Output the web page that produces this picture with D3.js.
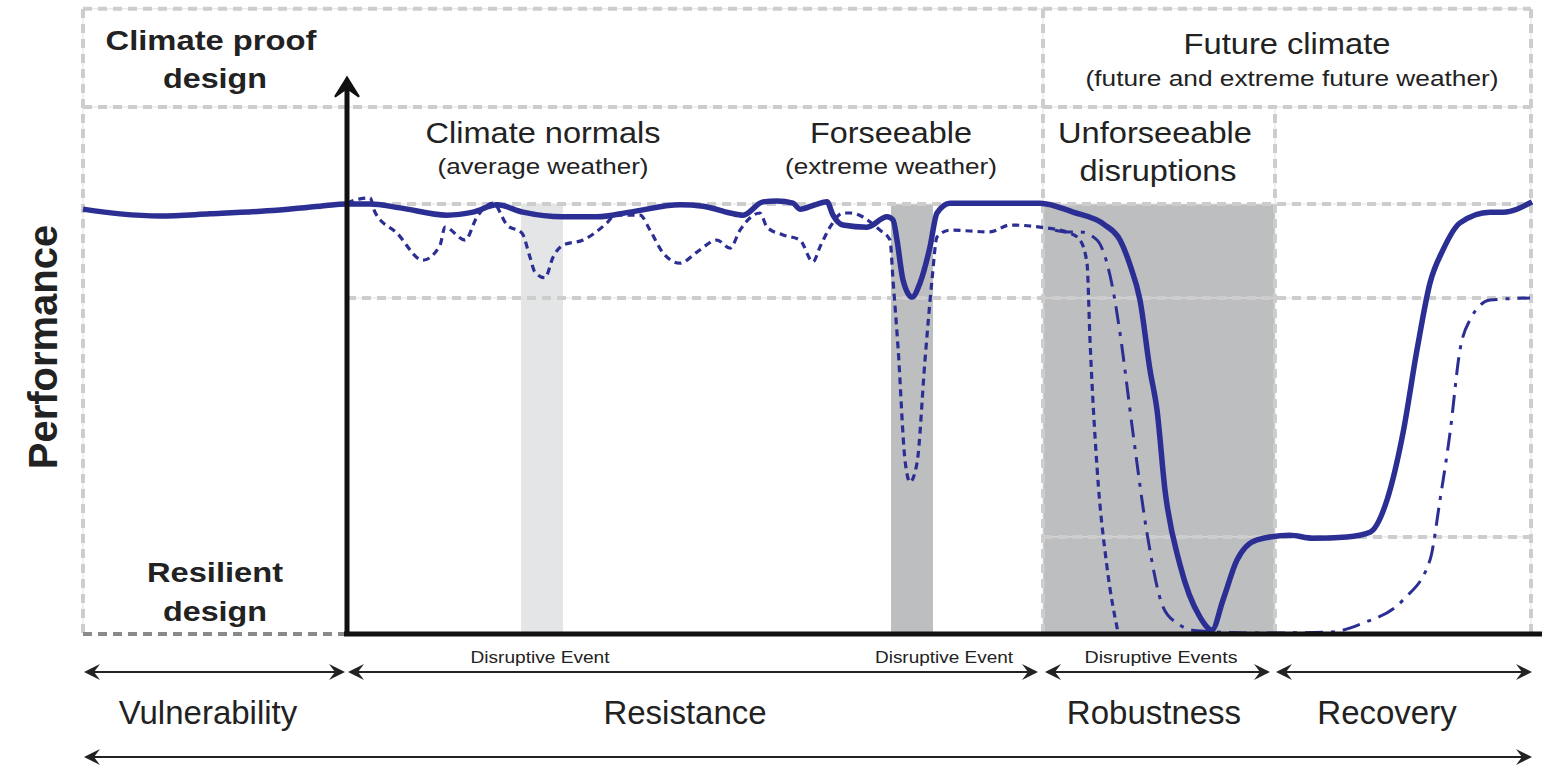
<!DOCTYPE html>
<html>
<head>
<meta charset="utf-8">
<script src="https://cdn.jsdelivr.net/npm/d3@7"></script>
<style>
  html, body { margin: 0; padding: 0; background: #ffffff; }
  svg { display: block; }
  text { font-family: "Liberation Sans", Arial, sans-serif; fill: #222222; }
</style>
</head>
<body>
<div id="chart-container"></div>
<script>
// time runs 0..1450 across the figure, performance 0..100 (100 = normal level)
const solidCurve = [
  [0, 98.8], [37, 97.7], [77, 97.2], [127, 97.7], [184, 98.4], [237, 99.5], [264, 100], [287, 100],
  [317, 99.1], [364, 97.4], [390, 98.1], [414, 99.8], [440, 98.1], [480, 97.0], [514, 97.0],
  [547, 98.1], [597, 99.8], [620, 99.5], [647, 97.9], [660, 97.4], [680, 100.5], [694, 100.7],
  [710, 100.2], [717, 98.8], [732, 99.8], [744, 100.5], [750, 97.4], [760, 95.1], [784, 94.6],
  [804, 97.0], [810, 96.3], [814, 91.6], [820, 82.3], [829, 78.3], [837, 81.6], [847, 90.0],
  [854, 97.9], [867, 100.2], [900, 100.2], [957, 100.2], [990, 98.1], [1022, 95.1], [1037, 91.6],
  [1047, 85.8], [1057, 77.6], [1067, 61.3], [1074, 52.0], [1082, 33.3], [1097, 15.9], [1117, 3.7],
  [1129, 0.7], [1140, 7.7], [1154, 17.0], [1174, 21.7], [1207, 22.8], [1230, 22.1], [1264, 22.4],
  [1287, 23.5], [1304, 31.0], [1320, 46.6], [1334, 66.0], [1347, 81.6], [1360, 89.3], [1377, 95.6],
  [1407, 98.1], [1420, 98.1], [1449, 100.5]
];

const dottedCurve = [
  [264, 100.2], [277, 101.2], [287, 101.4], [292, 98.1], [314, 93.2], [340, 86.9], [357, 90.4],
  [362, 94.6], [382, 91.6], [394, 97.0], [410, 100.2], [424, 95.1], [439, 93.2], [447, 87.6],
  [452, 84.1], [462, 82.8], [470, 87.6], [480, 90.4], [500, 91.6], [524, 95.6], [532, 97.4],
  [557, 97.4], [567, 93.9], [580, 88.6], [597, 86.2], [614, 88.8], [634, 91.6], [647, 89.7],
  [657, 93.9], [677, 97.9], [684, 94.6], [700, 92.8], [717, 91.6], [730, 86.5], [737, 90.0],
  [747, 94.6], [760, 97.9], [767, 97.9], [797, 93.9], [807, 91.6], [810, 82.3], [815, 66.7],
  [822, 40.3], [827, 35.2], [834, 39.6], [842, 63.6], [849, 82.3], [854, 92.3], [867, 93.9],
  [907, 93.5], [927, 95.1], [957, 94.6], [987, 93.2], [997, 91.6], [1004, 86.2], [1007, 68.3],
  [1014, 38.7], [1024, 15.4], [1035, 0.2]
];

const dashDotCurve = [
  [972, 93.9], [984, 93.5], [997, 93.5], [1014, 91.6], [1024, 86.2], [1030, 80.0], [1037, 69.9],
  [1050, 46.6], [1064, 23.3], [1080, 6.1], [1094, 2.3], [1114, 0.5], [1177, 0], [1247, 0.2],
  [1280, 2.3], [1320, 7.7], [1347, 17.0], [1357, 31.0], [1367, 46.6], [1377, 66.0], [1387, 73.0],
  [1407, 77.6], [1447, 78.1]
];

// shaded disruption windows [start, end]
const lightBands = [[438, 480]];
const darkBands = [[808, 850], [960, 1192]];

// dashed reference grid
const gridRows = [
  { level: 145.5, from: 0, to: 1448 },
  { level: 122.6, from: 0, to: 1448 },
  { level: 100, from: 264, to: 1448 },
  { level: 78.1, from: 264, to: 1448 },
  { level: 22.4, from: 960, to: 1448 }
];
const gridCols = [
  { at: 0, from: 0, to: 145.5 },
  { at: 960, from: 0, to: 145.5 },
  { at: 1192, from: 0, to: 122.6 },
  { at: 1448, from: 0, to: 145.5 }
];

const axisOrigin = 264;

const phases = [
  { name: "Vulnerability", from: 1, to: 262, label: 125 },
  { name: "Resistance", from: 265, to: 955, label: 602 },
  { name: "Robustness", from: 962, to: 1187, label: 1071 },
  { name: "Recovery", from: 1193, to: 1449, label: 1304 }
];

const events = [
  { name: "Disruptive Event", at: 457, len: 139 },
  { name: "Disruptive Event", at: 861, len: 138 },
  { name: "Disruptive Events", at: 1078, len: 153 }
];

const width = 1542, height = 767;

const x = d3.scaleLinear().domain([0, 1450]).range([83, 1533]);
const y = d3.scaleLinear().domain([0, 100]).range([633, 204]);

const svg = d3.select("#chart-container")
  .append("svg")
  .attr("width", width)
  .attr("height", height);

svg.append("rect").attr("width", width).attr("height", height).attr("fill", "#ffffff");

// shaded bands
svg.selectAll(".lightband")
  .data(lightBands)
  .enter()
  .append("rect")
  .attr("x", d => x(d[0]))
  .attr("width", d => x(d[1]) - x(d[0]))
  .attr("y", y(100))
  .attr("height", y(0) - y(100))
  .attr("fill", "#e4e5e7");

svg.selectAll(".darkband")
  .data(darkBands)
  .enter()
  .append("rect")
  .attr("x", d => x(d[0]))
  .attr("width", d => x(d[1]) - x(d[0]))
  .attr("y", y(100))
  .attr("height", y(0) - y(100))
  .attr("fill", "#bdbec0");

// grid
const grid = svg.append("g");
function gridLine(x1, y1, x2, y2) {
  grid.append("line")
    .attr("x1", x1).attr("y1", y1).attr("x2", x2).attr("y2", y2)
    .style("stroke", "#e2e2e2").style("stroke-width", 1);
  grid.append("line")
    .attr("x1", x1).attr("y1", y1).attr("x2", x2).attr("y2", y2)
    .style("stroke", "#cdcdcd").style("stroke-width", 4)
    .style("stroke-dasharray", "9,6");
}
gridRows.forEach(r => gridLine(x(r.from), y(r.level), x(r.to), y(r.level)));
gridCols.forEach(c => gridLine(x(c.at), y(c.from), x(c.at), y(c.to)));

// darker dashed baseline left of the axis
svg.append("line")
  .attr("x1", x(0)).attr("x2", x(axisOrigin) - 3)
  .attr("y1", y(0) + 1).attr("y2", y(0) + 1)
  .style("stroke", "#8a8a8a").style("stroke-width", 4)
  .style("stroke-dasharray", "9,6");

// curves
const line = d3.line()
  .x(d => x(d[0]))
  .y(d => y(d[1]))
  .curve(d3.curveMonotoneX);

const navy = "#2b2e93";

svg.append("path")
  .datum(dottedCurve)
  .attr("d", line)
  .style("fill", "none")
  .style("stroke", navy)
  .style("stroke-width", 3.2)
  .style("stroke-dasharray", "7,5");

svg.append("path")
  .datum(dashDotCurve)
  .attr("d", line)
  .style("fill", "none")
  .style("stroke", navy)
  .style("stroke-width", 3)
  .style("stroke-dasharray", "18,8,4,8");

svg.append("path")
  .datum(solidCurve)
  .attr("d", line)
  .style("fill", "none")
  .style("stroke", navy)
  .style("stroke-width", 5.5)
  .style("stroke-linejoin", "round");

// axes
const ax = x(axisOrigin);
svg.append("line")
  .attr("x1", ax).attr("x2", ax)
  .attr("y1", y(0) + 3).attr("y2", y(127))
  .style("stroke", "#111111").style("stroke-width", 5);
svg.append("path")
  .attr("d", `M${ax},${y(129.5)} L${ax - 12},${y(125)} L${ax},${y(127)} L${ax + 12},${y(125)} Z`)
  .attr("fill", "#111111").attr("stroke", "#111111").attr("stroke-width", 2)
  .attr("stroke-linejoin", "miter");
svg.append("line")
  .attr("x1", ax - 3).attr("x2", width)
  .attr("y1", y(0) + 1).attr("y2", y(0) + 1)
  .style("stroke", "#111111").style("stroke-width", 5);

// phase arrows
function head(g, px, py, dir) {
  g.append("path")
    .attr("d", `M${px},${py} L${px - dir * 16},${py - 8} L${px - dir * 10},${py} L${px - dir * 16},${py + 8} Z`)
    .attr("fill", "#222222");
}
const arrows = svg.append("g");
const arrowY = 672;
phases.forEach(p => {
  arrows.append("line")
    .attr("x1", x(p.from) + 4).attr("x2", x(p.to) - 4)
    .attr("y1", arrowY).attr("y2", arrowY)
    .style("stroke", "#222222").style("stroke-width", 2);
  head(arrows, x(p.from), arrowY, -1);
  head(arrows, x(p.to), arrowY, 1);
});
arrows.append("line")
  .attr("x1", x(1) + 4).attr("x2", x(1449) - 4)
  .attr("y1", 757).attr("y2", 757)
  .style("stroke", "#222222").style("stroke-width", 2);
head(arrows, x(1), 757, -1);
head(arrows, x(1449), 757, 1);

// text helper
function label(str, cx, by, size, weight, len) {
  const t = svg.append("text")
    .attr("x", cx).attr("y", by)
    .attr("text-anchor", "middle")
    .style("font-size", size + "px")
    .style("font-weight", weight)
    .text(str);
  if (len) t.attr("textLength", len).attr("lengthAdjust", "spacingAndGlyphs");
  return t;
}

phases.forEach(p => label(p.name, x(p.label), 724, 33, "normal"));
events.forEach(e => label(e.name, x(e.at), 663, 16, "normal", e.len));

label("Climate proof", 211, 50, 28, "bold", 211);
label("design", 215, 88, 28, "bold", 104);
label("Resilient", 215, 582, 28, "bold", 136);
label("design", 215, 621, 28, "bold", 104);

label("Climate normals", 543, 143, 29, "normal", 235);
label("(average weather)", 543, 174, 22, "normal", 211);
label("Forseeable", 891, 143, 29, "normal", 162);
label("(extreme weather)", 891, 174, 22, "normal", 212);
label("Unforseeable", 1155, 143, 29, "normal", 194);
label("disruptions", 1158, 181, 29, "normal", 157);
label("Future climate", 1287, 54, 29, "normal", 207);
label("(future and extreme future weather)", 1292, 86, 22, "normal", 413);

svg.append("text")
  .attr("transform", "translate(57,347) rotate(-90)")
  .attr("text-anchor", "middle")
  .style("font-size", "40px")
  .style("font-weight", "bold")
  .text("Performance");
</script>
</body>
</html>
